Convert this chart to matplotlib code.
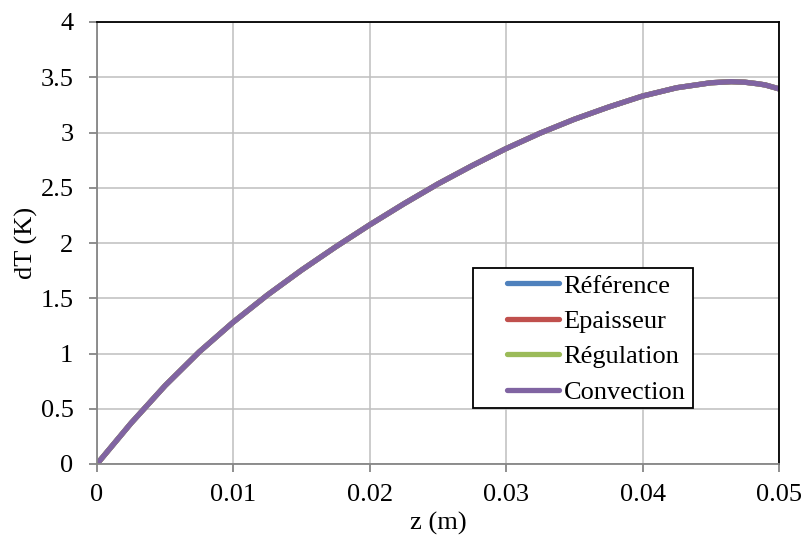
import matplotlib
matplotlib.use("Agg")
import matplotlib.pyplot as plt
from matplotlib.patches import Rectangle

plt.rcParams['font.family'] = ['Liberation Serif', 'DejaVu Serif']

z = [0, 0.0025, 0.005, 0.0075, 0.010, 0.0125, 0.015, 0.0175, 0.020,
     0.0225, 0.025, 0.0275, 0.030, 0.0325, 0.035, 0.0375, 0.040, 0.0425,
     0.045, 0.0465, 0.0475, 0.0485, 0.049, 0.050]
dT = [0, 0.37, 0.71, 1.015, 1.285, 1.53, 1.755, 1.965, 2.165,
      2.355, 2.535, 2.70, 2.855, 2.995, 3.12, 3.23, 3.33, 3.405,
      3.45, 3.46, 3.455, 3.44, 3.43, 3.395]

series = ["Référence", "Epaisseur", "Régulation", "Convection"]
colors = ["#4F81BD", "#C0504D", "#9BBB59", "#8064A2"]

xticks = [0, 0.01, 0.02, 0.03, 0.04, 0.05]
xticklabels = ["0", "0.01", "0.02", "0.03", "0.04", "0.05"]
yticks = [0, 0.5, 1, 1.5, 2, 2.5, 3, 3.5, 4]
yticklabels = ["0", "0.5", "1", "1.5", "2", "2.5", "3", "3.5", "4"]

W, H = 803, 540
fig = plt.figure(figsize=(W/100, H/100), dpi=100)
ax = fig.add_axes([97/W, 1 - 464/H, (779-97)/W, (464-22)/H])

for name, c in zip(series, colors):
    ax.plot(z, dT, color=c, lw=3.8, solid_capstyle='round', solid_joinstyle='round', label=name)

ax.set_xlim(0, 0.05)
ax.set_ylim(0, 4)
ax.set_xticks(xticks)
ax.set_xticklabels(xticklabels)
ax.set_yticks(yticks)
ax.set_yticklabels(yticklabels)
ax.grid(True, color="#BFBFBF", lw=1.1)
ax.set_axisbelow(True)

for s in ['left', 'bottom']:
    ax.spines[s].set_color("#868686")
    ax.spines[s].set_linewidth(1.3)
for s in ['top', 'right']:
    ax.spines[s].set_color("black")
    ax.spines[s].set_linewidth(1.3)

fs = 19
ax.tick_params(axis='both', direction='out', length=6, width=1.3, color="#868686",
               labelsize=fs)
ax.tick_params(axis='x', pad=8.5)
ax.tick_params(axis='y', pad=11)

ax.set_xlabel("z (m)", fontsize=fs, labelpad=4)
ax.set_ylabel("dT (K)", fontsize=fs, labelpad=1.5)

# legend frame
fig.patches.append(Rectangle((473/W, 1 - 408/H), 220/W, 140/H, transform=fig.transFigure,
                             fill=True, facecolor='white', edgecolor='black', lw=1.3, zorder=5))
leg = fig.legend(*ax.get_legend_handles_labels(), loc='center',
                 bbox_to_anchor=(596/W, 1 - 339/H), fontsize=fs, frameon=False,
                 handlelength=2.0, handletextpad=0.15, borderpad=0, labelspacing=0.45)
leg.set_zorder(6)

fig.savefig("out.png", dpi=100, facecolor="white")
